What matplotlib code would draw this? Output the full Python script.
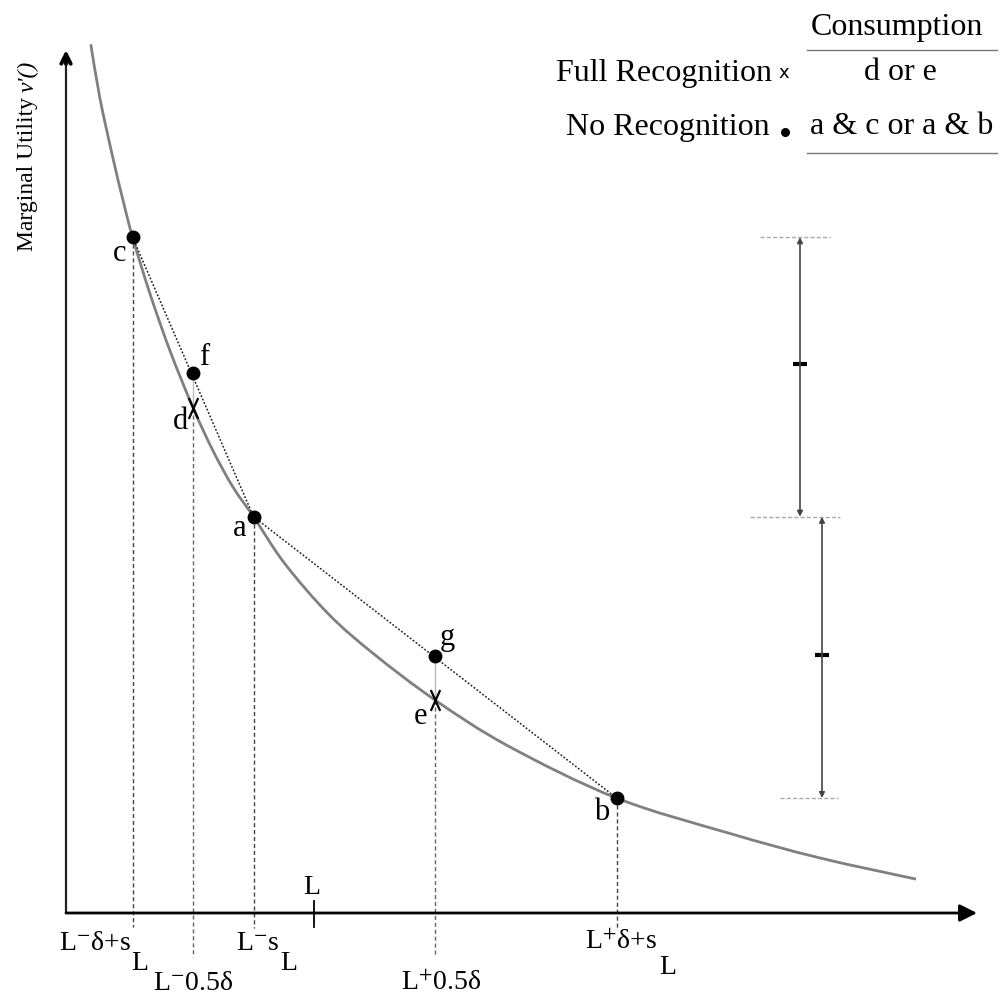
import matplotlib
matplotlib.use("Agg")
import matplotlib.pyplot as plt
from matplotlib.path import Path
from matplotlib.patches import PathPatch

plt.rcParams['font.family'] = ['Liberation Serif', 'DejaVu Serif']
plt.rcParams['mathtext.fontset'] = 'stix'

# ---------------- data ----------------
curve_x = [0.41, 0.56, 0.78, 0.94, 1.1, 1.39, 1.72, 2.1, 2.43, 2.76, 3.1,
           3.62, 4.35, 5.09, 6.1, 7.31, 9.1, 10.99, 12.46, 14.05]
curve_y = [14.36, 13.47, 12.46, 11.79, 11.17, 10.23, 9.29, 8.35, 7.64, 7.04, 6.55,
           5.77, 4.93, 4.28, 3.52, 2.76, 1.90, 1.31, 0.91, 0.56]

dot_names = ['c', 'a', 'b', 'f', 'g']
dot_x = [1.1, 3.1, 9.1, 2.1, 6.1]
dot_y = [11.17, 6.55, 1.90, 8.93, 4.25]

cross_names = ['d', 'e']
cross_x = [2.1, 6.1]
cross_y = [8.35, 3.52]

L_pos = 4.1
tick_labels = ['L', 'L$^{-}$δ+s', 'L$^{-}$0.5δ', 'L$^{-}$s', 'L$^{+}$0.5δ', 'L$^{+}$δ+s']

bracket_ticks = [9.07, 4.26]

legend_header = 'Consumption'
legend_rows = ['Full Recognition', 'No Recognition']
legend_values = ['d or e', 'a & c or a & b']
ylabel_main = 'Marginal Utility'
ylabel_fn = "v'()"

# ---------------- layout ----------------
W, H = 1003, 1002
S = 60.5          # pixels per data unit
X0, Y0 = 66, 913  # pixel position of origin

fig = plt.figure(figsize=(W / 100, H / 100), dpi=100)
ax = fig.add_axes([0, 0, 1, 1])
ax.set_xlim(-X0 / S, (W - X0) / S)
ax.set_ylim(-(H - Y0) / S, Y0 / S)
ax.axis('off')


def fx(px):
    return px / W


def fy(py):
    return 1 - py / H


def ftext(px, py, s, **kw):
    fig.text(fx(px), fy(py), s, **kw)


def dx(px):
    return (px - X0) / S


def dy(py):
    return (Y0 - py) / S


def smooth_path(xs, ys):
    """Smooth (Catmull-Rom style) drawing path through the given points."""
    pts = list(zip(xs, ys))
    n = len(pts)
    verts = [pts[0]]
    codes = [Path.MOVETO]
    for i in range(n - 1):
        p0 = pts[i - 1] if i > 0 else pts[i]
        p1 = pts[i]
        p2 = pts[i + 1]
        p3 = pts[i + 2] if i + 2 < n else pts[i + 1]
        c1 = (p1[0] + (p2[0] - p0[0]) / 6, p1[1] + (p2[1] - p0[1]) / 6)
        c2 = (p2[0] - (p3[0] - p1[0]) / 6, p2[1] - (p3[1] - p1[1]) / 6)
        verts += [c1, c2, p2]
        codes += [Path.CURVE4] * 3
    return Path(verts, codes)


# axes
ax.plot([0, 0], [0, dy(58)], color='#222', lw=1.6, solid_capstyle='butt')
ax.annotate('', xy=(0, dy(50)), xytext=(0, dy(64)),
            arrowprops=dict(arrowstyle='->', color='black', lw=2.8,
                            mutation_scale=17, shrinkA=0, shrinkB=0))
ax.annotate('', xy=(dx(977), 0), xytext=(0, 0),
            arrowprops=dict(arrowstyle='-|>', color='black', lw=2.0,
                            mutation_scale=26, shrinkA=0, shrinkB=0))

# curve
ax.add_patch(PathPatch(smooth_path(curve_x, curve_y), fill=False,
                       edgecolor='#808080', lw=2.0, zorder=3))

# chords c-a-b
cx, ax_, bx = dot_x[0], dot_x[1], dot_x[2]
cy, ay, by = dot_y[0], dot_y[1], dot_y[2]
ax.plot([cx, ax_, bx], [cy, ay, by], color='#222', lw=1.1,
        linestyle=(0, (1.2, 1.2)), zorder=4)

# vertical dashed guides
ends = {'c': dy(927), 'a': dy(928), 'b': dy(930)}
for n, x, y in zip(dot_names[:3], dot_x[:3], dot_y[:3]):
    ax.plot([x, x], [y, ends[n]], color='#444', lw=1.0,
            linestyle=(0, (3, 2)), zorder=2)
for i, (x, y) in enumerate(zip(cross_x, cross_y)):
    top = dot_y[3 + i]
    ax.plot([x, x], [top, y], color='#bbb', lw=1.0, zorder=2)
    ax.plot([x, x], [y, dy(957)], color='#666', lw=1.0,
            linestyle=(0, (3, 2)), zorder=2)

# L tick
ax.plot([L_pos, L_pos], [dy(901), dy(927)], color='black', lw=1.3)

# dots and crosses
ax.plot(dot_x, dot_y, 'o', color='black', ms=9, zorder=5)
xmark = Path([(-0.45, -1), (0.45, 1), (-0.45, 1), (0.45, -1)],
             [Path.MOVETO, Path.LINETO, Path.MOVETO, Path.LINETO])
ax.plot(cross_x, cross_y, linestyle='none', marker=xmark, ms=15,
        mew=1.6, color='black', zorder=5)

# point labels (offsets in pixels)
offs = {'c': (-13, -16), 'a': (-14, -12), 'b': (-15, -14), 'f': (11, 15),
        'g': (12, 18), 'd': (-13, -14), 'e': (-15, -16)}
for n, x, y in list(zip(dot_names, dot_x, dot_y)) + list(zip(cross_names, cross_x, cross_y)):
    ax.annotate(n, (x, y), xytext=offs[n], textcoords='offset pixels',
                ha='center', va='center', fontsize=22, zorder=6)

# x-axis labels
tfs = 20
ftext(312, 887, tick_labels[0], ha='center', va='center', fontsize=tfs)
ftext(95, 943, tick_labels[1], ha='center', va='center', fontsize=tfs)
ftext(140, 964, 'L', ha='center', va='center', fontsize=tfs)
ftext(193, 983, tick_labels[2], ha='center', va='center', fontsize=tfs)
ftext(258, 943, tick_labels[3], ha='center', va='center', fontsize=tfs)
ftext(289, 964, 'L', ha='center', va='center', fontsize=tfs)
ftext(441, 983, tick_labels[4], ha='center', va='center', fontsize=tfs)
ftext(621, 942, tick_labels[5], ha='center', va='center', fontsize=tfs)
ftext(668, 967, 'L', ha='center', va='center', fontsize=tfs)

# y label (upright part + italic function name)
ftext(28, 251, ylabel_main, rotation=90, ha='center', va='bottom', fontsize=17)
ftext(28, 92, ylabel_fn, rotation=90, ha='center', va='bottom', fontsize=17,
      style='italic')

# brackets on the right
b1x, b2x = dx(800), dx(822)
ax.plot([dx(760), dx(830)], [cy, cy], color='#aaa', lw=1.0, linestyle=(0, (3, 1.5)))
ax.plot([dx(750), dx(840)], [ay, ay], color='#aaa', lw=1.0, linestyle=(0, (3, 1.5)))
ax.plot([dx(780), dx(838)], [by, by], color='#aaa', lw=1.0, linestyle=(0, (3, 1.5)))
for xb, y1, y2 in [(b1x, cy, ay), (b2x, ay, by)]:
    ax.annotate('', xy=(xb, y2), xytext=(xb, y1),
                arrowprops=dict(arrowstyle='<|-|>', color='#444', lw=1.2,
                                mutation_scale=8, shrinkA=0, shrinkB=0))
for xb, yt in zip([b1x, b2x], bracket_ticks):
    ax.plot([xb - 0.12, xb + 0.12], [yt, yt], color='black', lw=3,
            solid_capstyle='butt')

# legend table
lfs = 23
ftext(897, 27, legend_header, ha='center', va='center', fontsize=lfs)
fig.add_artist(plt.Line2D([fx(807), fx(997)], [fy(50), fy(50)], color='#777', lw=1.0))
fig.add_artist(plt.Line2D([fx(807), fx(997)], [fy(153), fy(153)], color='#777', lw=1.0))
ftext(772, 73, legend_rows[0], ha='right', va='center', fontsize=lfs)
ftext(784, 73, 'x', ha='center', va='center', fontsize=13, family='DejaVu Sans')
ftext(900, 73, legend_values[0], ha='center', va='center', fontsize=lfs)
ftext(770, 127, legend_rows[1], ha='right', va='center', fontsize=lfs)
fig.add_artist(plt.Line2D([fx(785)], [fy(132)], marker='o', color='black', ms=5.5))
ftext(902, 127, legend_values[1], ha='center', va='center', fontsize=lfs)

fig.savefig('out.png', dpi=100, facecolor='white')
